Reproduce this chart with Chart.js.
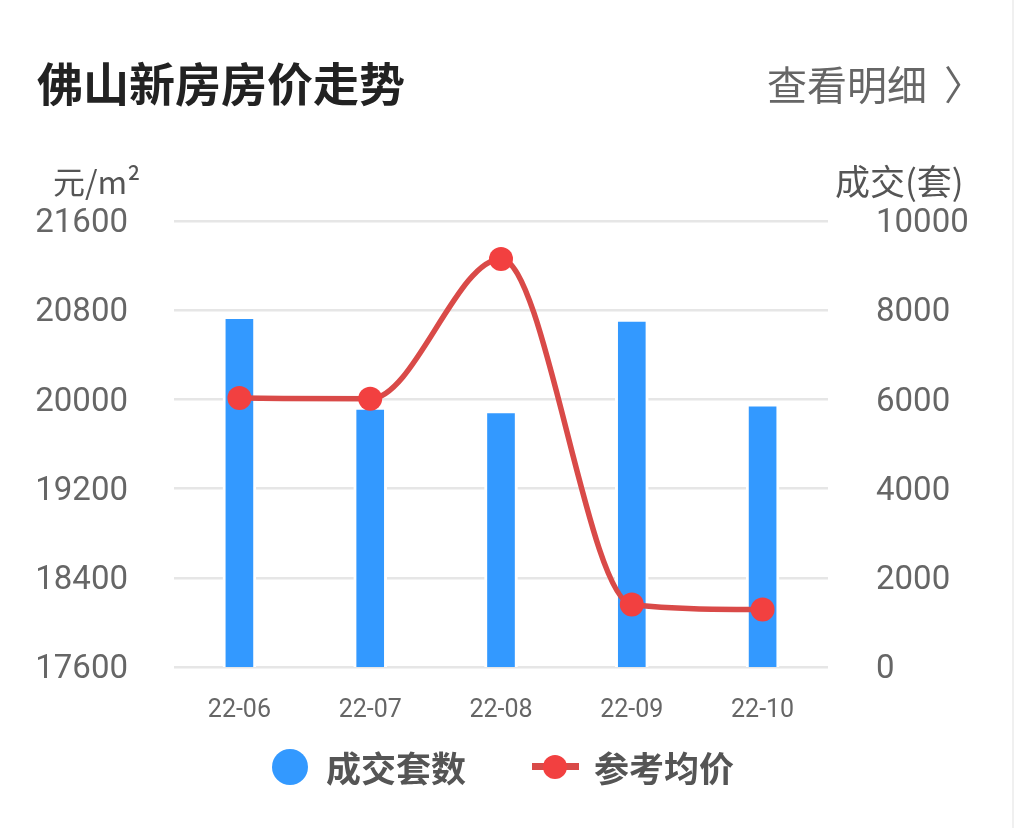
<!DOCTYPE html>
<html>
<head>
<meta charset="utf-8">
<script src="https://cdn.jsdelivr.net/npm/chart.js@4/dist/chart.umd.min.js"></script>
<style>
  html, body { margin: 0; padding: 0; background: #fff; }
  #wrap { position: relative; width: 1014px; height: 828px; overflow: hidden; }
  #myChart { display: block; }
  #wrap div.t { position: absolute; white-space: nowrap; font-family: "Noto Sans CJK SC", Roboto, sans-serif; }
  #title { left: 37px; top: 54px; font-size: 46px; line-height: 54px; font-weight: bold; color: #222; }
  #more { left: 767px; top: 59px; font-size: 40px; line-height: 48px; color: #666; }
  #chev { left: 944px; top: 59px; font-size: 40px; line-height: 48px; color: #666; }
  #unitL { left: 53px; top: 160px; font-size: 32px; line-height: 40px; color: #555; }
  #unitR { left: 835px; top: 160px; font-size: 35px; line-height: 40px; color: #555; }
  #edge { position: absolute; right: 0; top: 0; width: 2px; height: 828px; background: #f0f0f0; }
  #legend { position: absolute; left: 0; top: 744px; width: 1014px; height: 46px; }
  .li { position: absolute; top: 0; height: 46px; line-height: 46px; font-size: 35px; font-weight: bold; color: #555;
        font-family: "Noto Sans CJK SC", sans-serif; }
  .dot { position: absolute; border-radius: 50%; }
  .bar { position: absolute; }
</style>
</head>
<body>
<div id="wrap">
  <canvas id="myChart" width="1014" height="828"></canvas>
  <div class="t" id="title">佛山新房房价走势</div>
  <div class="t" id="more">查看明细</div>
  <div class="t" id="chev">〉</div>
  <div class="t" id="unitL">元/m²</div>
  <div class="t" id="unitR">成交(套)</div>
  <div id="legend"></div>
  <div id="edge"></div>
</div>

<script>
var months = ["22-06", "22-07", "22-08", "22-09", "22-10"];
var dealCounts = [7860, 5830, 5750, 7800, 5900];
var avgPrices = [20012, 20005, 21260, 18160, 18115];

var barLabel = "成交套数";
var lineLabel = "参考均价";

var barColor = "#3399ff";
var lineColor = "#d94a48";
var pointColor = "#f24040";

// legend (html, from the dataset labels/colours)
var lg = document.getElementById("legend");
lg.innerHTML =
  '<div class="dot" style="left:272px;top:5px;width:36px;height:36px;background:' + barColor + '"></div>' +
  '<div class="li" style="left:326px">' + barLabel + '</div>' +
  '<div class="bar" style="left:532px;top:19px;width:47px;height:7px;background:' + lineColor + '"></div>' +
  '<div class="dot" style="left:543px;top:11px;width:24px;height:24px;background:' + pointColor + '"></div>' +
  '<div class="li" style="left:594px">' + lineLabel + '</div>';

function plain(v) { return String(v); }

new Chart("myChart", {
  type: "bar",
  data: {
    labels: months,
    datasets: [{
      type: "line",
      label: lineLabel,
      data: avgPrices,
      yAxisID: "y",
      borderColor: lineColor,
      borderWidth: 5.5,
      pointRadius: 12,
      pointBackgroundColor: pointColor,
      pointBorderWidth: 0,
      cubicInterpolationMode: "monotone",
      fill: false,
      order: 0
    }, {
      type: "bar",
      label: barLabel,
      data: dealCounts,
      yAxisID: "y1",
      backgroundColor: barColor,
      borderColor: "#ffffff",
      borderWidth: 3,
      borderSkipped: "bottom",
      barThickness: 33,
      order: 1
    }]
  },
  options: {
    responsive: false,
    animation: false,
    devicePixelRatio: 1,
    layout: { padding: { top: 221, left: 0, right: 0, bottom: 81 } },
    plugins: {
      legend: { display: false },
      tooltip: { enabled: false }
    },
    scales: {
      x: {
        grid: { display: false },
        border: { display: false },
        ticks: { color: "#666", padding: 21, font: { family: "Roboto", size: 25 } }
      },
      y: {
        position: "left",
        min: 17600,
        max: 21600,
        grid: { color: "#e6e6e6", lineWidth: 2.5, drawTicks: false },
        border: { display: false },
        ticks: { stepSize: 800, color: "#666", padding: 46, labelOffset: 3, font: { family: "Roboto", size: 33 }, callback: plain },
        afterFit: function (s) { s.width = 174; }
      },
      y1: {
        position: "right",
        min: 0,
        max: 10000,
        grid: { display: false },
        border: { display: false },
        ticks: { stepSize: 2000, color: "#666", padding: 40, labelOffset: 3, font: { family: "Roboto", size: 33 }, callback: plain },
        afterFit: function (s) { s.width = 186; }
      }
    }
  }
});
</script>
</body>
</html>
